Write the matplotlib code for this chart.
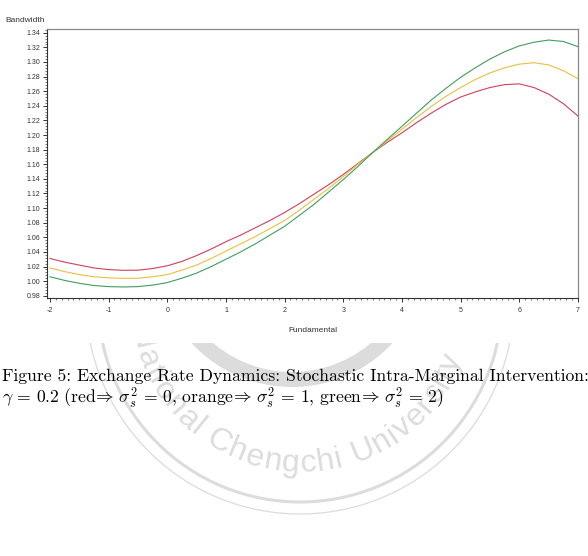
import numpy as np
import matplotlib
matplotlib.use("Agg")
import matplotlib.pyplot as plt
from matplotlib.ticker import MultipleLocator, AutoMinorLocator, FormatStrFormatter
from matplotlib.patches import Circle, Rectangle
from matplotlib.font_manager import findfont, FontProperties
from matplotlib.ft2font import FT2Font

plt.rcParams['axes.unicode_minus'] = False
plt.rcParams['mathtext.fontset'] = 'cm'

# ---- data ----
fundamental = [-2, -1.75, -1.5, -1.25, -1, -0.75, -0.5, -0.25, 0, 0.25, 0.5, 0.75,
               1, 1.25, 1.5, 1.75, 2, 2.25, 2.5, 2.75, 3, 3.25, 3.5, 3.75,
               4, 4.25, 4.5, 4.75, 5, 5.25, 5.5, 5.75, 6, 6.25, 6.5, 6.75, 7]
bw_red = [1.031, 1.026, 1.022, 1.018, 1.0158, 1.0148, 1.015, 1.0172, 1.021, 1.027, 1.035, 1.044,
          1.054, 1.063, 1.073, 1.083, 1.094, 1.106, 1.119, 1.132, 1.146, 1.161, 1.176, 1.190,
          1.203, 1.217, 1.230, 1.242, 1.252, 1.259, 1.265, 1.269, 1.270, 1.265, 1.256, 1.243, 1.226]
bw_orange = [1.018, 1.013, 1.009, 1.006, 1.0045, 1.0038, 1.004, 1.006, 1.009, 1.015, 1.022, 1.031,
             1.041, 1.051, 1.061, 1.072, 1.083, 1.097, 1.112, 1.127, 1.143, 1.160, 1.176, 1.192,
             1.208, 1.224, 1.239, 1.253, 1.265, 1.276, 1.285, 1.292, 1.297, 1.299, 1.296, 1.288, 1.277]
bw_green = [1.006, 1.001, 0.997, 0.994, 0.9925, 0.992, 0.9925, 0.9945, 0.998, 1.004, 1.011, 1.020,
            1.030, 1.040, 1.051, 1.063, 1.075, 1.090, 1.105, 1.122, 1.139, 1.157, 1.176, 1.194,
            1.212, 1.230, 1.248, 1.264, 1.279, 1.292, 1.304, 1.314, 1.322, 1.327, 1.330, 1.328, 1.321]
series_colors = ['#d0405a', '#e8c040', '#3f9f5f']

caption_line1 = "Figure 5: Exchange Rate Dynamics: Stochastic Intra-Marginal Intervention:"
caption_line2 = (r"$\gamma\,=\,0.2\ (\mathrm{red}\!\Rightarrow\,\sigma_s^2\,=\,0,\,"
                 r"\mathrm{orange}\!\Rightarrow\,\sigma_s^2\,=\,1,\,"
                 r"\mathrm{green}\!\Rightarrow\,\sigma_s^2\,=\,2)$")
watermark_text = "National Chengchi University"

W, H = 588, 556
fig = plt.figure(figsize=(W / 100, H / 100), dpi=100)

# ---- background layer (watermark + caption) in pixel coordinates ----
bg = fig.add_axes([0, 0, 1, 1], zorder=0)
bg.set_xlim(0, W)
bg.set_ylim(H, 0)
bg.axis('off')

wm = '#dcdcdc'
cx, cy = 300, 300
bg.add_patch(Circle((cx, cy), 214, fill=False, ec=wm, lw=0.9))
bg.add_patch(Circle((cx, cy), 202, fill=False, ec=wm, lw=2.2))
# emblem ring
bg.add_patch(Circle((292, 250), 137, fc=wm, ec='none'))
bg.add_patch(Circle((292, 250), 122, fc='white', ec='none'))

# arc text laid out by glyph advances (with tracking)
wm_size = 23
tracking = 1.5
ft = FT2Font(findfont(FontProperties(family='Liberation Sans')))
ft.set_size(wm_size, 100)
adv = []
for ch in watermark_text:
    g = ft.load_char(ord(ch))
    adv.append(g.linearHoriAdvance / 65536.0 + tracking)
adv = np.array(adv)
r_base = 172
cum = np.concatenate([[0], np.cumsum(adv)])
mid = (cum[:-1] + cum[1:]) / 2
anchor_idx = watermark_text.index("Chengchi") + 5
anchor_len = cum[anchor_idx]
for i, ch in enumerate(watermark_text):
    th = np.deg2rad(-90.0) + (mid[i] - anchor_len) / r_base
    x = cx + r_base * np.cos(th)
    y = cy - r_base * np.sin(th)
    bg.text(x, y, ch, rotation=np.rad2deg(th) + 90, ha='center', va='baseline',
            fontsize=wm_size, color=wm, family='Liberation Sans', rotation_mode='anchor')

# white area of the chart image
bg.add_patch(Rectangle((0, 0), W, 343, fc='white', ec='none', zorder=5))

# caption
bg.text(2, 376, caption_line1, fontsize=12.7, family='cmr10', ha='left', va='center', zorder=6)
bg.text(2, 398, caption_line2, fontsize=12.7, family='cmr10', ha='left', va='center', zorder=6)

# ---- main chart ----
left, right, top, bottom = 47, 578, 28.5, 298
ax = fig.add_axes([left / W, 1 - bottom / H, (right - left) / W, (bottom - top) / H], zorder=2)
for yv, c in zip([bw_red, bw_orange, bw_green], series_colors):
    ax.plot(fundamental, yv, color=c, lw=0.8)

ax.set_xlim(-2.05, 7)
ax.set_ylim(0.9769, 1.3458)
ax.xaxis.set_major_locator(MultipleLocator(1))
ax.xaxis.set_minor_locator(MultipleLocator(0.1))
ax.yaxis.set_major_locator(MultipleLocator(0.02))
ax.yaxis.set_minor_locator(AutoMinorLocator(5))
ax.yaxis.set_major_formatter(FormatStrFormatter('%.2f'))
ax.xaxis.set_major_formatter(FormatStrFormatter('%d'))
ax.tick_params(which='major', length=3, width=0.7, color='#333333', labelsize=5,
               labelcolor='#333333', pad=2)
ax.tick_params(axis='x', which='major', length=3.2, pad=3.5)
ax.tick_params(which='minor', length=1.6, width=0.5, color='#444444')
for lab in ax.get_xticklabels() + ax.get_yticklabels():
    lab.set_family('Liberation Sans')
for s in ['left', 'bottom']:
    ax.spines[s].set_color('#333333')
    ax.spines[s].set_linewidth(0.8)
for s in ['top', 'right']:
    ax.spines[s].set_color('#888888')
    ax.spines[s].set_linewidth(0.9)

fig.text(5 / W, 1 - 21 / H, "Bandwidth", fontsize=6, family='Liberation Sans',
         color='#333333', ha='left', va='center', zorder=3)
fig.text(312.5 / W, 1 - 331 / H, "Fundamental", fontsize=6, family='Liberation Sans',
         color='#333333', ha='center', va='center', zorder=3)

fig.savefig('out.png', dpi=100)
